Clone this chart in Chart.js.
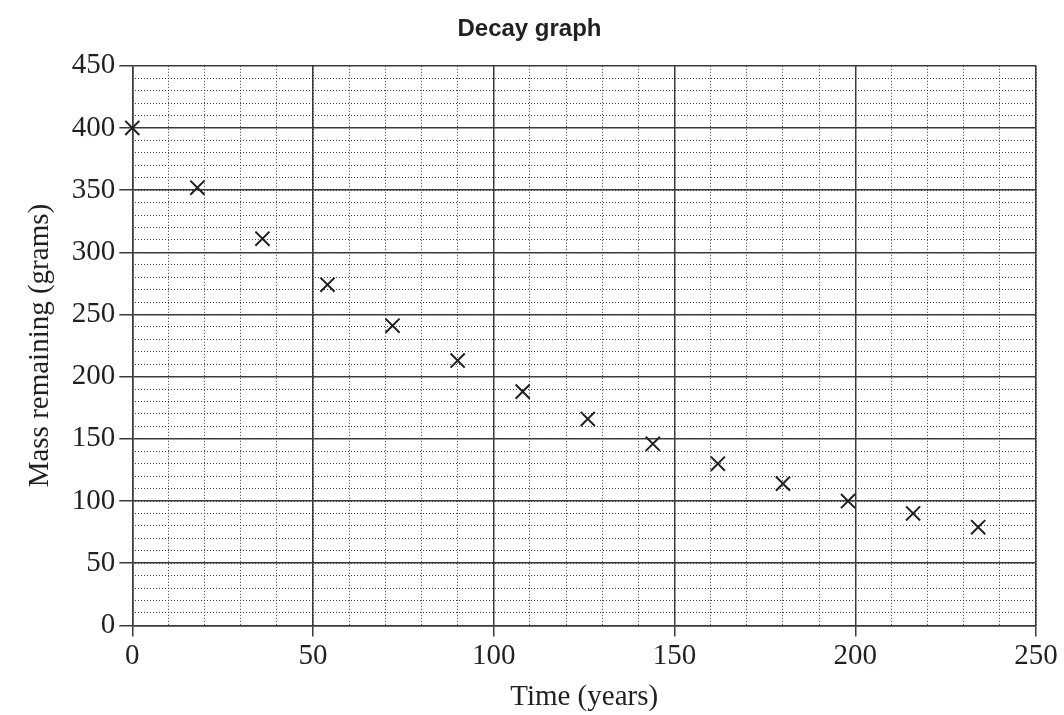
<!DOCTYPE html>
<html>
<head>
<meta charset="utf-8">
<script src="https://cdn.jsdelivr.net/npm/chart.js@4"></script>
<style>
  html, body { margin: 0; padding: 0; background: #fff; }
  #wrap { width: 1064px; height: 715px; }
</style>
</head>
<body>
<div id="wrap"><canvas id="chart"></canvas></div>
<script>
// data
const timeYears = [0, 18, 36, 54, 72, 90, 108, 126, 144, 162, 180, 198, 216, 234];
const massGrams = [400, 352, 311, 274, 241, 213, 188, 166, 146, 130, 114, 100, 90, 79];
const xTicks = [0, 50, 100, 150, 200, 250];
const yTicks = [0, 50, 100, 150, 200, 250, 300, 350, 400, 450];

const serif = "'Liberation Serif', 'DejaVu Serif', serif";
const ink = '#231f20';

const points = timeYears.map((t, i) => ({ x: t, y: massGrams[i] }));

const minorGrid = {
    color: '#3c3c3c',
    lineWidth: 1,
    drawTicks: false,
    z: -1
};

const ctx = document.getElementById('chart').getContext('2d');
window.chartInstance = new Chart(ctx, {
    type: 'scatter',
    data: {
        datasets: [{
            label: 'Mass remaining',
            data: points,
            pointStyle: 'crossRot',
            pointRadius: 10,
            pointHoverRadius: 10,
            borderColor: ink,
            borderWidth: 2,
            backgroundColor: ink,
            clip: false
        }]
    },
    options: {
        responsive: true,
        maintainAspectRatio: false,
        animation: false,
        layout: { padding: { top: 5, right: 28, left: 23, bottom: 0 } },
        plugins: {
            legend: { display: false },
            tooltip: { enabled: false },
            title: {
                display: true,
                text: 'Decay graph',
                color: ink,
                font: { family: "'Liberation Sans', Arial, sans-serif", size: 24, weight: 'bold' },
                padding: { top: 10, bottom: 22 }
            }
        },
        scales: {
            x: {
                type: 'linear',
                min: 0, max: 250,
                afterBuildTicks: (axis) => { axis.ticks = xTicks.map(v => ({ value: v })); },
                ticks: { color: ink, font: { family: serif, size: 29 }, padding: 3 },
                grid: { color: '#3a3a3a', lineWidth: 1.5, tickLength: 11, tickWidth: 1.5, tickColor: '#3a3a3a' },
                border: { color: '#3a3a3a', width: 1.5 },
                title: { display: true, text: 'Time (years)', color: ink, font: { family: serif, size: 29 }, padding: { top: 3, bottom: 0 } }
            },
            y: {
                type: 'linear',
                min: 0, max: 450,
                afterBuildTicks: (axis) => { axis.ticks = yTicks.map(v => ({ value: v })); },
                ticks: { color: ink, font: { family: serif, size: 29 }, padding: 4 },
                grid: { color: '#3a3a3a', lineWidth: 1.5, tickLength: 13, tickWidth: 1.5, tickColor: '#3a3a3a' },
                border: { color: '#3a3a3a', width: 1.5 },
                title: { display: true, text: 'Mass remaining (grams)', color: ink, font: { family: serif, size: 29 }, padding: { top: 0, bottom: 10 } }
            },
            xMinor: {
                type: 'linear',
                position: 'bottom',
                min: 0, max: 250,
                ticks: { display: false, stepSize: 10 },
                grid: minorGrid,
                border: { display: false, dash: [1, 2] }
            },
            yMinor: {
                type: 'linear',
                position: 'left',
                min: 0, max: 450,
                ticks: { display: false, stepSize: 10 },
                grid: minorGrid,
                border: { display: false, dash: [1, 2] }
            }
        }
    }
});
</script>
</body>
</html>
